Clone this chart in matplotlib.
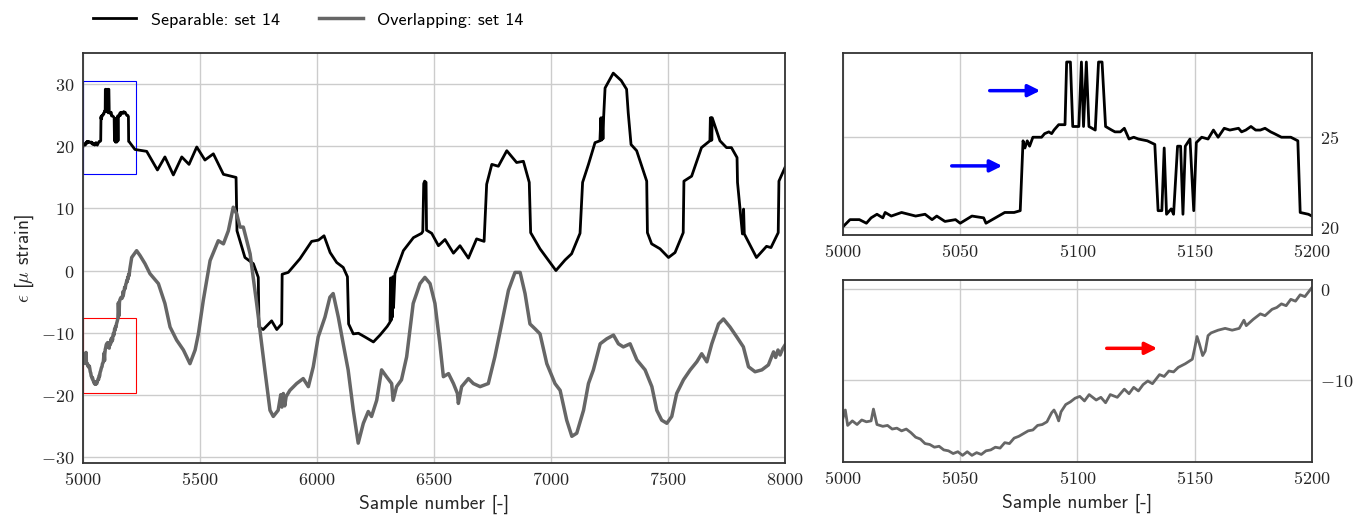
import numpy as np
import matplotlib
matplotlib.use("Agg")
import matplotlib.pyplot as plt
from matplotlib.patches import Rectangle
from matplotlib.ticker import FuncFormatter

# ---- zoomed window 5000-5200, separable signal
sep_zoom_x = [5000, 5003, 5007, 5010, 5012, 5014.5, 5017, 5018, 5020.6, 5025, 5028, 5031, 5035, 5038,
              5040, 5043.5, 5048, 5050, 5055, 5060, 5061, 5065, 5069, 5073, 5075.6, 5076.8, 5077.6,
              5078.6, 5079.6, 5081, 5084.7, 5086, 5087.8, 5089, 5090, 5092, 5094.7, 5095.4, 5097,
              5098, 5100.6, 5101.7, 5102.6, 5103.8, 5104.9, 5107.6, 5109, 5110.5, 5112, 5114.6,
              5116, 5118.3, 5120, 5122, 5124, 5126, 5129.8, 5133, 5134.4, 5136, 5137, 5138, 5140,
              5141, 5142.7, 5144, 5145, 5146, 5148, 5149.6, 5150.7, 5153, 5155.7, 5158, 5160,
              5162.6, 5165, 5168.7, 5170, 5171.8, 5174, 5176, 5178, 5180, 5182.4, 5184, 5187,
              5191, 5194, 5195, 5198.5, 5200]
sep_zoom_y = [20.0, 20.4, 20.4, 20.2, 20.5, 20.7, 20.5, 20.8, 20.6, 20.8, 20.7, 20.6, 20.7, 20.4,
              20.6, 20.3, 20.4, 20.2, 20.6, 20.5, 20.2, 20.5, 20.8, 20.8, 20.9, 24.8, 24.4,
              24.8, 24.5, 25.0, 25.0, 25.2, 25.3, 25.2, 25.4, 25.7, 25.7, 29.2, 29.2,
              25.6, 25.6, 29.2, 25.6, 29.2, 25.6, 25.4, 29.2, 29.2, 25.6, 25.4,
              25.3, 25.3, 25.5, 24.9, 25.0, 24.9, 24.8, 24.6, 20.9, 20.9, 24.4, 20.7, 21.0,
              20.7, 24.5, 24.5, 20.7, 24.5, 24.9, 20.9, 24.7, 25.0, 24.9, 25.4, 25.0,
              25.5, 25.4, 25.5, 25.3, 25.4, 25.6, 25.4, 25.4, 25.5, 25.3, 25.2, 25.0,
              25.0, 24.8, 20.8, 20.7, 20.6]

# ---- zoomed window 5000-5200, overlapping signal (bottom-right panel)
ovl_zoom_x = [5000, 5001, 5002, 5004, 5006, 5008, 5010, 5012, 5013, 5014.5, 5017, 5019, 5021, 5023,
              5025, 5027, 5029, 5031, 5033, 5035, 5037, 5039, 5041, 5043, 5045, 5047, 5049, 5051,
              5053, 5055, 5057, 5059, 5061, 5063, 5065, 5067, 5069, 5071, 5073, 5075, 5077, 5079,
              5081, 5083, 5085, 5087, 5089, 5090, 5091, 5092, 5093, 5095, 5097, 5099, 5101, 5103,
              5105, 5108, 5110, 5112, 5114, 5117, 5120, 5122, 5124, 5126, 5128, 5130, 5132, 5135,
              5137, 5139, 5141, 5143, 5146, 5149, 5150, 5151, 5152, 5153.4, 5154.5, 5155.7, 5157,
              5160, 5163, 5166, 5169, 5171, 5172, 5175, 5178, 5180, 5183, 5185, 5187, 5189, 5191,
              5193, 5195, 5197, 5200]
ovl_zoom_y = [-14.2, -13.3, -15.0, -14.5, -14.9, -14.4, -14.6, -14.5, -13.2, -14.9, -15.1, -15.0, -15.4,
              -15.3, -15.6, -15.4, -15.8, -16.3, -16.5, -17.0, -17.1, -17.4, -17.3, -17.7, -17.8,
              -18.1, -17.9, -18.3, -17.9, -18.3, -18.0, -18.2, -17.8, -17.7, -17.4, -17.5, -16.9,
              -17.0, -16.4, -16.2, -15.9, -15.6, -15.5, -15.0, -14.9, -14.6, -13.6, -13.3, -13.8,
              -14.5, -13.5, -12.7, -12.4, -12.0, -11.8, -12.3, -11.6, -12.2, -11.9, -12.5, -11.6,
              -11.9, -11.0, -11.5, -10.8, -11.2, -10.5, -10.1, -10.4, -9.4, -9.6, -9.0, -9.1, -8.6,
              -8.2, -7.7, -6.5, -5.2, -6.0, -7.3, -6.8, -5.1, -4.8, -4.5, -4.3, -4.5, -4.3, -3.4,
              -4.0, -3.3, -2.7, -2.9, -2.2, -2.0, -1.6, -1.8, -1.1, -1.3, -0.6, -0.8, 0.2]

# ---- rest of the record, 5200-8000 (main panel)
sep_x = [5222, 5272, 5318, 5350, 5386, 5422, 5453, 5486, 5521, 5557, 5600, 5642, 5654, 5658, 5692,
         5728, 5749, 5752, 5770, 5806, 5828, 5849, 5851, 5877, 5927, 5977, 6006, 6030, 6056, 6084,
         6112, 6130, 6135, 6155, 6177, 6205, 6241, 6269, 6300, 6312, 6314, 6317, 6319, 6322, 6324,
         6327, 6333, 6369, 6412, 6447, 6452, 6454, 6456, 6460, 6466, 6468, 6490, 6519, 6547, 6583,
         6611, 6647, 6682, 6714, 6725, 6747, 6775, 6811, 6853, 6882, 6907, 6913, 6953, 6996, 7021,
         7060, 7088, 7124, 7135, 7160, 7188, 7209, 7213, 7216, 7219, 7222, 7225, 7231, 7266, 7300,
         7323, 7330, 7342, 7366, 7409, 7412, 7430, 7466, 7502, 7530, 7565, 7568, 7601, 7643, 7679,
         7681, 7683, 7685, 7687, 7689, 7722, 7750, 7771, 7795, 7797, 7818, 7820, 7823, 7826, 7878,
         7921, 7940, 7971, 7974, 8000]
sep_y = [19.5, 19.2, 16.2, 18.3, 15.4, 18.3, 17.1, 19.9, 17.8, 18.8, 15.5, 15.1, 15.0, 6.4, 2.1,
         1.1, -1.1, -9.1, -9.5, -8.1, -9.5, -8.6, -0.6, -0.3, 1.9, 4.7, 4.9, 5.6, 2.9, 1.3,
         0.5, -1.0, -8.6, -10.2, -10.1, -10.7, -11.5, -10.4, -9.0, -8.3, -1.2, -8.0, -1.5, -7.5, -1.0,
         -6.0, -0.5, 3.2, 5.3, 6.0, 6.3, 10.5, 14.0, 14.4, 14.2, 6.5, 6.0, 4.0, 5.0, 2.8,
         4.0, 2.0, 5.1, 4.7, 13.9, 17.1, 16.8, 19.3, 17.4, 17.6, 14.2, 6.1, 3.5, 1.3, 0.0,
         1.7, 2.7, 6.0, 14.2, 17.1, 20.6, 20.9, 24.6, 21.0, 24.6, 21.2, 24.8, 29.4, 31.8, 30.6,
         29.2, 25.4, 20.3, 19.3, 14.4, 6.1, 4.3, 3.5, 2.1, 2.9, 6.1, 14.4, 15.2, 19.8, 20.9,
         24.6, 21.0, 24.6, 21.0, 24.6, 20.9, 19.8, 19.8, 18.2, 14.2, 5.9, 5.9, 9.9, 5.9, 2.1,
         3.9, 3.7, 6.1, 14.4, 16.6]

ovl_x = [5208, 5229, 5244, 5265, 5286, 5322, 5350, 5372, 5400, 5429, 5457, 5479, 5493, 5514, 5543,
         5578, 5600, 5621, 5642, 5657, 5671, 5685, 5714, 5742, 5777, 5799, 5813, 5834, 5845, 5850,
         5856, 5862, 5868, 5884, 5913, 5941, 5963, 5984, 6005, 6034, 6055, 6069, 6091, 6112, 6133,
         6155, 6176, 6198, 6219, 6233, 6255, 6276, 6297, 6319, 6325, 6340, 6361, 6383, 6411, 6440,
         6461, 6483, 6504, 6525, 6540, 6562, 6583, 6600, 6604, 6618, 6647, 6668, 6697, 6732, 6760,
         6789, 6818, 6846, 6868, 6889, 6910, 6932, 6953, 6982, 7017, 7039, 7067, 7089, 7110, 7139,
         7160, 7181, 7210, 7238, 7267, 7288, 7309, 7338, 7367, 7402, 7431, 7452, 7473, 7495, 7516,
         7537, 7566, 7595, 7623, 7644, 7666, 7687, 7716, 7737, 7765, 7794, 7822, 7844, 7872, 7901,
         7929, 7951, 7960, 7970, 7979, 7990, 8000]
ovl_y = [2.1, 3.2, 2.4, 1.1, -0.5, -2.1, -5.3, -9.1, -11.2, -12.8, -15.0, -12.8, -10.2, -4.8, 1.6,
         4.8, 4.3, 6.4, 10.2, 9.1, 7.0, 7.0, 2.7, -5.3, -16.0, -22.5, -23.5, -22.5, -20.0, -22.0,
         -19.8, -21.8, -20.3, -19.3, -18.2, -17.4, -18.7, -15.5, -10.7, -7.5, -4.3, -3.7, -7.5, -11.8, -16.0,
         -22.5, -27.8, -24.6, -22.7, -23.5, -20.9, -16.0, -17.1, -18.2, -20.9, -18.7, -17.6, -13.9, -5.3, -2.1,
         -1.1, -2.1, -5.3, -11.8, -17.1, -16.6, -18.2, -19.8, -21.4, -18.7, -17.4, -18.2, -18.7, -18.2, -13.9,
         -8.6, -3.2, -0.3, -0.3, -3.7, -8.6, -9.4, -10.2, -15.0, -18.2, -19.3, -24.1, -26.7, -26.2, -22.5,
         -18.2, -16.0, -11.8, -11.0, -10.4, -11.8, -12.3, -11.8, -14.4, -16.0, -18.7, -22.5, -24.1, -24.6, -23.5,
         -19.8, -17.6, -16.0, -14.7, -13.4, -14.7, -11.8, -8.6, -7.8, -9.1, -10.7, -12.3, -15.5, -16.3, -16.0,
         -15.2, -13.1, -14.0, -12.8, -13.6, -12.6, -12.0]

main_x = np.concatenate([sep_zoom_x, sep_x])
main_y = np.concatenate([sep_zoom_y, sep_y])
main_ox = np.concatenate([ovl_zoom_x, ovl_x])
main_oy = np.concatenate([ovl_zoom_y, ovl_y])

plt.rcParams["mathtext.fontset"] = "cm"
txt = "#262626"
grey = "#666666"
label_font = dict(family="cmss10", size=14, color=txt)

fmt = FuncFormatter(lambda v, p: "$%d$" % v)

fig = plt.figure(figsize=(13.7, 5.2), dpi=100)
ax = fig.add_axes([0.0606, 0.1096, 0.5124, 0.788])
ax1 = fig.add_axes([0.6153, 0.548, 0.3423, 0.350])
ax2 = fig.add_axes([0.6153, 0.1121, 0.3423, 0.3494])

for a in (ax, ax1, ax2):
    a.grid(color="#cccccc", lw=1)
    a.set_axisbelow(True)
    a.tick_params(length=0, labelsize=13, labelcolor=txt, pad=6)
    a.xaxis.set_major_formatter(fmt)
    a.yaxis.set_major_formatter(fmt)
    for s in a.spines.values():
        s.set_color("#333333")
        s.set_linewidth(1.3)

# main panel
ax.plot(main_x, main_y, color="black", lw=2, label="Separable: set 14")
ax.plot(main_ox, main_oy, color=grey, lw=2.5, label="Overlapping: set 14")
ax.add_patch(Rectangle((5000, 15.6), 225, 15.0, fill=False, ec="blue", lw=0.8))
ax.add_patch(Rectangle((5000, -19.7), 225, 12.0, fill=False, ec="red", lw=0.8))
ax.set_xlim(5000, 8000)
ax.set_ylim(-31, 35)
ax.set_xticks(np.arange(5000, 8001, 500))
ax.set_yticks(np.arange(-30, 31, 10))
ax.set_xlabel("Sample number [-]", fontdict=label_font)
ax.set_ylabel(r"$\epsilon$ [$\mu$ strain]", fontdict=label_font)

# zoom on separable
ax1.plot(sep_zoom_x, sep_zoom_y, color="black", lw=2)
ax1.set_xlim(5000, 5200)
ax1.set_ylim(19.54, 29.7)
ax1.set_xticks(np.arange(5000, 5201, 50))
ax1.set_yticks([20, 25])
ax1.yaxis.tick_right()
ax1.annotate("", xy=(5085.3, 27.6), xytext=(5061.4, 27.6),
             arrowprops=dict(arrowstyle="-|>", color="blue", lw=2.5, mutation_scale=18))
ax1.annotate("", xy=(5069.1, 23.4), xytext=(5045.2, 23.4),
             arrowprops=dict(arrowstyle="-|>", color="blue", lw=2.5, mutation_scale=18))

# zoom on overlapping
ax2.plot(ovl_zoom_x, ovl_zoom_y, color=grey, lw=2)
ax2.set_xlim(5000, 5200)
ax2.set_ylim(-19.0, 1.03)
ax2.set_xticks(np.arange(5000, 5201, 50))
ax2.set_yticks([0, -10])
ax2.yaxis.tick_right()
ax2.set_xlabel("Sample number [-]", fontdict=label_font)
ax2.annotate("", xy=(5135.2, -6.5), xytext=(5111.3, -6.5),
             arrowprops=dict(arrowstyle="-|>", color="red", lw=2.5, mutation_scale=18))

fig.legend(loc="upper left", bbox_to_anchor=(0.056, 1.008), ncol=2, frameon=False,
           prop=dict(family="cmss10", size=13), handlelength=2.4, columnspacing=2.2)

fig.savefig("out.png", dpi=100)
